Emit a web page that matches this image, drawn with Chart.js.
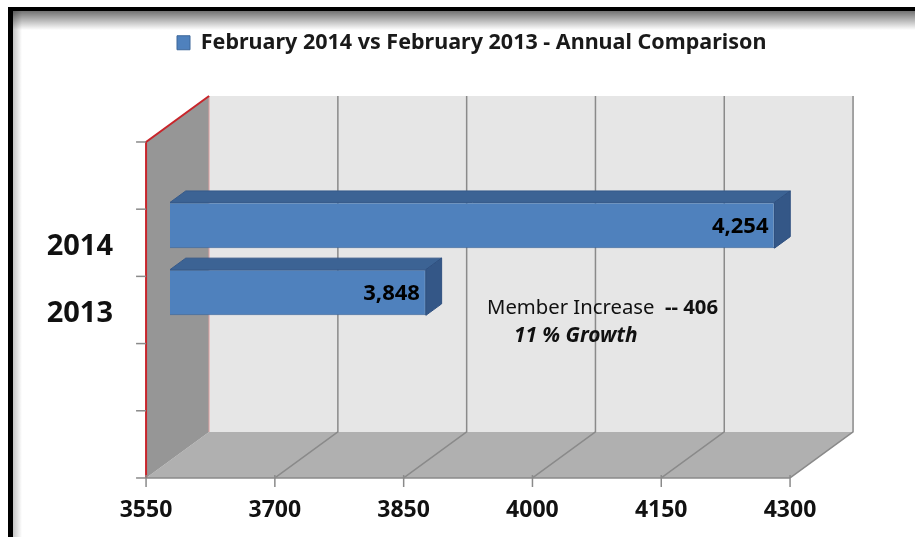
<!DOCTYPE html>
<html>
<head>
<meta charset="utf-8">
<script src="https://cdn.jsdelivr.net/npm/chart.js@4.4.0/dist/chart.umd.min.js"></script>
<style>
    html, body { margin: 0; padding: 0; background: #fff; }
    #wrap { width: 915px; height: 537px; position: relative; }
</style>
</head>
<body>
<div id="wrap"><canvas id="chart"></canvas></div>
<script>
// Categories top to bottom (the sheet kept 5 slots, only two are used)
const categories = ['', '2014', '2013', '', ''];
const members = [null, 4254, 3848, null, null];
const seriesLabel = 'February 2014 vs February 2013 - Annual Comparison';
const xTicks = [3550, 3700, 3850, 4000, 4150, 4300];
const noteText = 'Member Increase  ';
const noteBold = '-- 406';
const noteGrowth = '11 % Growth';

const FONT = '"Noto Sans", "DejaVu Sans", sans-serif';
// depth vector of the 3D box; bars sit at BAR_Z of the depth
const DEPTH = { x: 63, y: -46 };
const BAR_Z = 0.38;
const BAR_DEPTH = 0.25;

function poly(ctx, pts, fill, stroke, lw) {
    ctx.beginPath();
    pts.forEach((p, i) => i ? ctx.lineTo(p[0], p[1]) : ctx.moveTo(p[0], p[1]));
    ctx.closePath();
    if (fill) { ctx.fillStyle = fill; ctx.fill(); }
    if (stroke) { ctx.strokeStyle = stroke; ctx.lineWidth = lw || 1; ctx.stroke(); }
}

function line(ctx, pts, color, lw) {
    ctx.beginPath();
    pts.forEach((p, i) => i ? ctx.lineTo(p[0], p[1]) : ctx.moveTo(p[0], p[1]));
    ctx.strokeStyle = color;
    ctx.lineWidth = lw;
    ctx.stroke();
}

const box3d = {
    id: 'box3d',
    afterInit(chart) {
        // fixed legend height so the plot area lands where the original sits
        const legend = chart.legend;
        const fit = legend.fit;
        legend.fit = function() {
            fit.call(this);
            this.height = 102.5;
        };
    },
    afterLayout(chart) {
        chart.legend.left += 167;
        chart.legend.right += 167;
    },
    beforeDraw(chart) {
        const { ctx, width, height } = chart;
        ctx.save();
        ctx.fillStyle = '#fff';
        ctx.fillRect(0, 0, width, height);
        const g = ctx.createLinearGradient(0, 11, 0, 30);
        g.addColorStop(0, 'rgba(0,0,0,0.55)');
        g.addColorStop(1, 'rgba(0,0,0,0)');
        ctx.fillStyle = g;
        ctx.fillRect(12, 11, width - 12, 19);
        const g2 = ctx.createLinearGradient(12, 0, 22, 0);
        g2.addColorStop(0, 'rgba(0,0,0,0.25)');
        g2.addColorStop(1, 'rgba(0,0,0,0)');
        ctx.fillStyle = g2;
        ctx.fillRect(12, 11, 10, height - 11);
        ctx.fillStyle = '#000';
        ctx.fillRect(8, 7, width - 8, 4);
        ctx.fillRect(8, 7, 5, height - 7);
        ctx.restore();
    },
    beforeDatasetsDraw(chart) {
        const { ctx, chartArea: a, scales: { x, y } } = chart;
        const p = (px, py, z) => [px + (z - BAR_Z) * DEPTH.x, py + (z - BAR_Z) * DEPTH.y];
        const L = x.getPixelForValue(xTicks[0]);
        const R = x.getPixelForValue(xTicks[xTicks.length - 1]);
        const T = a.top, B = a.bottom;
        ctx.save();
        poly(ctx, [p(L, T, 1), p(R, T, 1), p(R, B, 1), p(L, B, 1)], '#e6e6e6');
        poly(ctx, [p(L, B, 0), p(R, B, 0), p(R, B, 1), p(L, B, 1)], '#b0b0b0');
        poly(ctx, [p(L, T, 0), p(L, T, 1), p(L, B, 1), p(L, B, 0)], '#969696');

        xTicks.slice(1).forEach(v => {
            const xp = x.getPixelForValue(v);
            line(ctx, [p(xp, T, 1), p(xp, B, 1), p(xp, B, 0)], '#8a8a8a', 1.5);
        });
        line(ctx, [p(L, B, 0), p(R, B, 0)], '#8a8a8a', 1.5);
        line(ctx, [p(L, T, 1), p(L, B, 1)], '#e3a5a5', 1);
        line(ctx, [p(L, B, 0), p(L, T, 0), p(L, T, 1)], '#c8252b', 2);

        // category tick marks on the front edge
        const step = (y.getPixelForValue(1) - y.getPixelForValue(0));
        for (let i = 0; i <= categories.length; i++) {
            const yy = y.getPixelForValue(0) - step / 2 + i * step;
            const f = p(L, yy, 0);
            line(ctx, [[f[0] - 10, f[1]], f], '#8a8a8a', 1.5);
        }
        xTicks.forEach(v => {
            const f = p(x.getPixelForValue(v), B, 0);
            line(ctx, [[f[0], f[1] - 3], [f[0], f[1] + 9]], '#8a8a8a', 1.5);
        });
        ctx.restore();
    },
    afterDatasetsDraw(chart) {
        const { ctx, chartArea: a } = chart;
        const dx = BAR_DEPTH * DEPTH.x, dy = BAR_DEPTH * DEPTH.y;
        const meta = chart.getDatasetMeta(0);
        ctx.save();
        meta.data.forEach((bar, i) => {
            if (members[i] == null) return;
            const props = bar.getProps(['x', 'y', 'base', 'height'], true);
            const xe = props.x, yc = props.y, height = props.height;
            const base = Math.max(props.base, a.left);
            const top = yc - height / 2, bot = yc + height / 2;
            poly(ctx, [[base, top], [base + dx, top + dy], [xe + dx, top + dy], [xe, top]], '#3c6394', '#35598a', 1);
            poly(ctx, [[xe, top], [xe + dx, top + dy], [xe + dx, bot + dy], [xe, bot]], '#345787', '#2f5080', 1);

            ctx.fillStyle = '#000';
            ctx.font = 'bold 22px ' + FONT;
            ctx.textAlign = 'right';
            ctx.textBaseline = 'middle';
            ctx.fillText(members[i].toLocaleString('en-US'), xe - 6, yc + 1);
        });

        // note in the plot
        ctx.textAlign = 'left';
        ctx.textBaseline = 'alphabetic';
        ctx.fillStyle = '#111';
        ctx.font = '20.3px ' + FONT;
        const nx = a.left + 317, ny = a.top + 189.5;
        ctx.fillText(noteText, nx, ny);
        const w = ctx.measureText(noteText).width;
        ctx.font = 'bold 20.3px ' + FONT;
        ctx.fillText(noteBold, nx + w, ny);
        ctx.font = 'italic bold 20.8px ' + FONT;
        ctx.fillText(noteGrowth, a.left + 344, a.top + 217.5);
        ctx.restore();
    }
};

new Chart(document.getElementById('chart'), {
    type: 'bar',
    data: {
        labels: categories,
        datasets: [{
            label: seriesLabel,
            data: members,
            backgroundColor: '#4f81bd',
            borderColor: '#3d679a',
            borderWidth: 1,
            categoryPercentage: 1,
            barPercentage: 0.68
        }]
    },
    options: {
        indexAxis: 'y',
        responsive: true,
        maintainAspectRatio: false,
        animation: false,
        layout: { padding: { left: 0, right: 101, top: 22, bottom: 0 } },
        plugins: {
            tooltip: { enabled: false },
            legend: {
                display: true,
                position: 'top',
                align: 'start',
                labels: {
                    boxWidth: 13,
                    boxHeight: 14,
                    padding: 10,
                    color: '#1a1a1a',
                    font: { family: FONT, size: 21.5, weight: 'bold' }
                }
            }
        },
        scales: {
            x: {
                type: 'linear',
                min: 3550,
                max: 4300,
                afterFit: s => { s.height = 76.5; },
                afterBuildTicks: s => { s.ticks = xTicks.map(v => ({ value: v })); },
                grid: { display: false, drawTicks: false },
                border: { display: false },
                ticks: {
                    labelOffset: -24,
                    padding: 36,
                    color: '#111',
                    font: { family: FONT, size: 23, weight: 'bold' },
                    callback: v => String(v)
                }
            },
            y: {
                afterFit: s => { s.width = 170; },
                grid: { display: false, drawTicks: false },
                border: { display: false },
                ticks: {
                    autoSkip: false,
                    labelOffset: 21,
                    padding: 57,
                    color: '#111',
                    font: { family: FONT, size: 29, weight: 'bold' }
                }
            }
        }
    },
    plugins: [box3d]
});
</script>
</body>
</html>
